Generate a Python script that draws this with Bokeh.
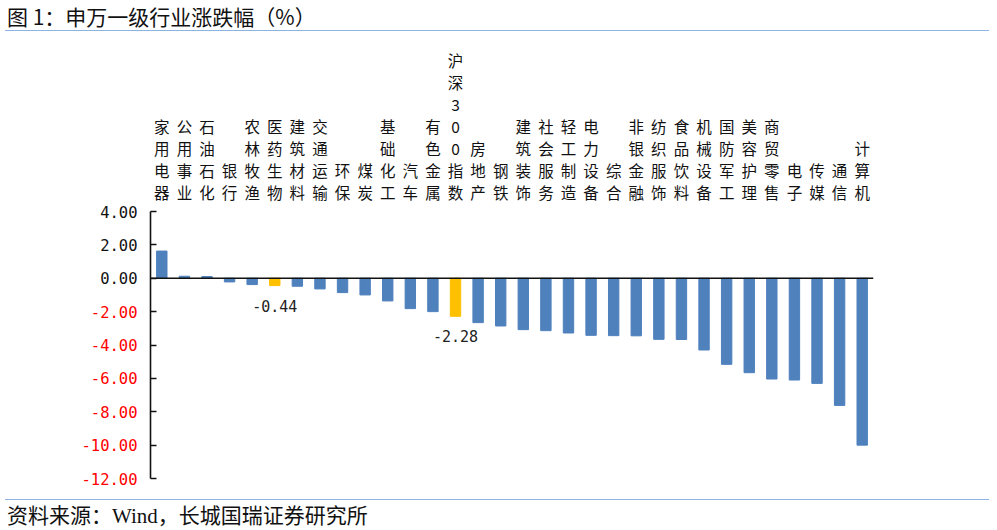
from bokeh.plotting import figure
from bokeh.models import (FactorRange, Range1d, FixedTicker, Span,
                          ColumnDataSource, Div)
from bokeh.core.properties import value
from bokeh.layouts import column, row
from bokeh.embed import file_html
from bokeh.resources import INLINE

title_text = "图 1：申万一级行业涨跌幅（%）"
source_text_a = "资料来源："
source_text_b = "Wind"
source_text_c = "，长城国瑞证券研究所"

categories = ["家用电器", "公用事业", "石油石化", "银行", "农林牧渔", "医药生物",
              "建筑材料", "交通运输", "环保", "煤炭", "基础化工", "汽车", "有色金属",
              "沪深300指数", "房地产", "钢铁", "建筑装饰", "社会服务", "轻工制造",
              "电力设备", "综合", "非银金融", "纺织服饰", "食品饮料", "机械设备",
              "国防军工", "美容护理", "商贸零售", "电子", "传媒", "通信", "计算机"]
values = [1.63, 0.12, 0.10, -0.22, -0.38, -0.44, -0.48, -0.64, -0.86, -1.00,
          -1.36, -1.82, -2.00, -2.28, -2.66, -2.86, -3.08, -3.14, -3.28, -3.42,
          -3.44, -3.45, -3.66, -3.67, -4.30, -5.16, -5.66, -6.04, -6.10, -6.30,
          -7.62, -10.00]
highlight = ["医药生物", "沪深300指数"]

y_ticks = [-12, -10, -8, -6, -4, -2, 0, 2, 4]
y_tick_labels = ["-12.00", "-10.00", "-8.00", "-6.00", "-4.00", "-2.00", "0.00", "2.00", "4.00"]
axis_bounds = (-12, 4)

BLUE = "#4F81BD"
GOLD = "#FFC000"
LINE_BLUE = "#8DB3E2"
RED = "#FF0000"
INK = "#111111"
CJK = "Noto Sans CJK SC"
NUM = "DejaVu Sans Mono"

H = 468
LEFT_W = 140

# shared value range: 4 .. -12 spans 267 px; extended above for the category labels
px_per_unit = 267 / 16
y_range = Range1d(axis_bounds[0] - 21 / px_per_unit, axis_bounds[1] + 180 / px_per_unit)

colors = [GOLD if c in highlight else BLUE for c in categories]
src = ColumnDataSource(dict(x=categories, top=values, color=colors))

p = figure(x_range=FactorRange(*categories, range_padding=0), y_range=y_range,
           width=997 - LEFT_W, height=H, output_backend="svg", toolbar_location=None,
           x_axis_location=None,
           min_border_left=10, min_border_right=124, min_border_top=0, min_border_bottom=0)
p.outline_line_color = None
p.grid.visible = False
p.background_fill_color = "white"
p.border_fill_color = "white"

p.vbar(x="x", top="top", bottom=0, width=0.46, color="color", source=src)
p.add_layout(Span(location=0, dimension="width", line_color=INK, line_width=1.6))

# y axis (line + inward ticks); its labels are drawn beside it in the label strip
ya = p.yaxis[0]
ya.ticker = FixedTicker(ticks=y_ticks)
ya.bounds = axis_bounds
ya.major_tick_in = 6
ya.major_tick_out = 0
ya.minor_tick_line_color = None
ya.major_tick_line_color = INK
ya.major_tick_line_width = 1.5
ya.axis_line_color = INK
ya.axis_line_width = 1.6
ya.major_label_standoff = 0
ya.major_label_text_font_size = "2px"
ya.major_label_text_color = None

# vertical stacked category labels
lab_src = ColumnDataSource(dict(x=categories, y=[axis_bounds[1]] * len(categories),
                                text=["\n".join(list(c)) for c in categories]))
p.text(x="x", y="y", text="text", source=lab_src, y_offset=-9,
       text_align="center", text_baseline="bottom", text_font=value(CJK),
       text_font_size="15.5px", text_line_height=1.0, text_color=INK)

# data labels for highlighted bars
hl = [(c, v) for c, v in zip(categories, values) if c in highlight]
hl_src = ColumnDataSource(dict(x=[c for c, _ in hl], y=[v for _, v in hl],
                               text=["%.2f" % v for _, v in hl]))
p.text(x="x", y="y", text="text", source=hl_src, y_offset=14,
       text_align="center", text_baseline="top", text_font=value(NUM),
       text_font_size="15px", text_color="#222222")

# tick-label strip, sharing the value range
lf = figure(x_range=Range1d(0, LEFT_W), y_range=y_range, width=LEFT_W, height=H,
            output_backend="svg", toolbar_location=None,
            x_axis_location=None, y_axis_location=None,
            min_border_left=0, min_border_right=0, min_border_top=0, min_border_bottom=0)
lf.outline_line_color = None
lf.grid.visible = False
lf.border_fill_color = "white"
tick_src = ColumnDataSource(dict(x=[LEFT_W] * len(y_ticks), y=y_ticks, text=y_tick_labels,
                                 color=[RED if t < 0 else INK for t in y_ticks]))
lf.text(x="x", y="y", text="text", source=tick_src, x_offset=-3,
        text_align="right", text_baseline="middle", text_font=value(NUM),
        text_font_size="15.5px", text_color="color")

title_div = Div(
    text=('<div style="font-family:\'Noto Sans CJK SC\';font-size:21px;line-height:22px;'
          'padding:5px 0 2.5px 2px;margin-left:5px;width:984px;'
          'border-bottom:1.5px solid %s;white-space:nowrap;color:#111;">%s</div>')
    % (LINE_BLUE, title_text),
    width=997, height=31, margin=(0, 0, 0, 0))

foot_div = Div(
    text=('<div style="font-family:\'Noto Sans CJK SC\';font-size:21px;line-height:24px;'
          'padding:1.5px 0 0 2px;margin-left:5px;width:984px;'
          'border-top:1.5px solid %s;white-space:nowrap;color:#111;">'
          '%s<span style="font-family:\'Liberation Serif\';">%s</span>%s</div>')
    % (LINE_BLUE, source_text_a, source_text_b, source_text_c),
    width=997, height=31, margin=(0, 0, 0, 0))

layout = column(title_div, row(lf, p, spacing=0), foot_div, spacing=0)

open("out.html", "w").write(file_html(layout, INLINE))
